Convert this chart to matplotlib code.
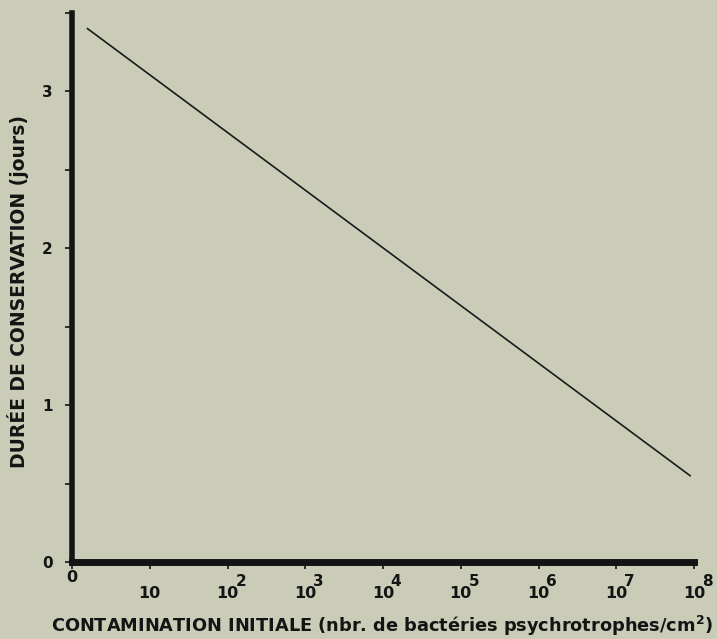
import matplotlib
matplotlib.use("Agg")
import matplotlib.pyplot as plt
from matplotlib.transforms import blended_transform_factory

plt.rcParams['font.family'] = ['DejaVu Sans']

# Shelf life versus initial contamination (log10 scale positions)
log_counts = [0.2, 7.95]
shelf_days = [3.4, 0.55]

x_positions = [0, 1, 2, 3, 4, 5, 6, 7, 8]
x_bases = ['0', '10', '10', '10', '10', '10', '10', '10', '10']
x_exponents = ['', '', '2', '3', '4', '5', '6', '7', '8']
y_major = [0, 1, 2, 3]
y_minor = [0.5, 1.5, 2.5, 3.5]

bg = '#cbccb8'
ink = '#141414'
fig = plt.figure(figsize=(7.17, 6.39), dpi=100, facecolor=bg)
ax = fig.add_axes([0.1004, 0.1205, 0.8676, 0.8592], facecolor=bg)

ax.plot(log_counts, shelf_days, color='#1a1a1a', lw=1.2)

ax.set_xlim(0, 8)
ax.set_ylim(0, 3.5)
for s in ['top', 'right']:
    ax.spines[s].set_visible(False)
ax.spines['left'].set_linewidth(4)
ax.spines['bottom'].set_linewidth(5)
ax.spines['left'].set_color(ink)
ax.spines['bottom'].set_color(ink)

ax.set_yticks(y_major)
ax.set_yticklabels([str(v) for v in y_major], fontsize=11, fontweight='bold')
ax.set_yticks(y_minor, minor=True)
ax.tick_params(axis='y', which='both', direction='out', length=5, width=1.2, pad=9, colors=ink)
ax.set_xticks(x_positions)
ax.set_xticklabels([])
ax.tick_params(axis='x', which='both', direction='out', length=5, width=1.2, colors=ink)

tr = blended_transform_factory(ax.transData, fig.transFigure)
for xp, base, ex in zip(x_positions, x_bases, x_exponents):
    if base == '0':
        ax.text(xp, 1 - 577 / 639, base, transform=tr, ha='center', va='center',
                fontsize=11.5, fontweight='bold', color=ink)
    else:
        ax.text(xp, 1 - 594 / 639, base, transform=tr, ha='center', va='center',
                fontsize=11.5, fontweight='bold', color=ink)
        if ex:
            ax.text(xp + 0.1, 1 - 581 / 639, ex, transform=tr, ha='left', va='center',
                    fontsize=11, fontweight='bold', color=ink)

fig.text(0.5327, 1 - 632 / 639,
         'CONTAMINATION INITIALE (nbr. de bactéries psychrotrophes/cm$^{\\mathbf{2}}$)',
         ha='center', va='baseline', fontsize=12.8, fontweight='bold', color=ink)
fig.text(0.025, 1 - 292 / 639, 'DURÉE DE CONSERVATION (jours)', rotation=90,
         ha='center', va='center', fontsize=13.5, fontweight='bold', color=ink)

fig.savefig('out.png', dpi=100, facecolor=bg)
